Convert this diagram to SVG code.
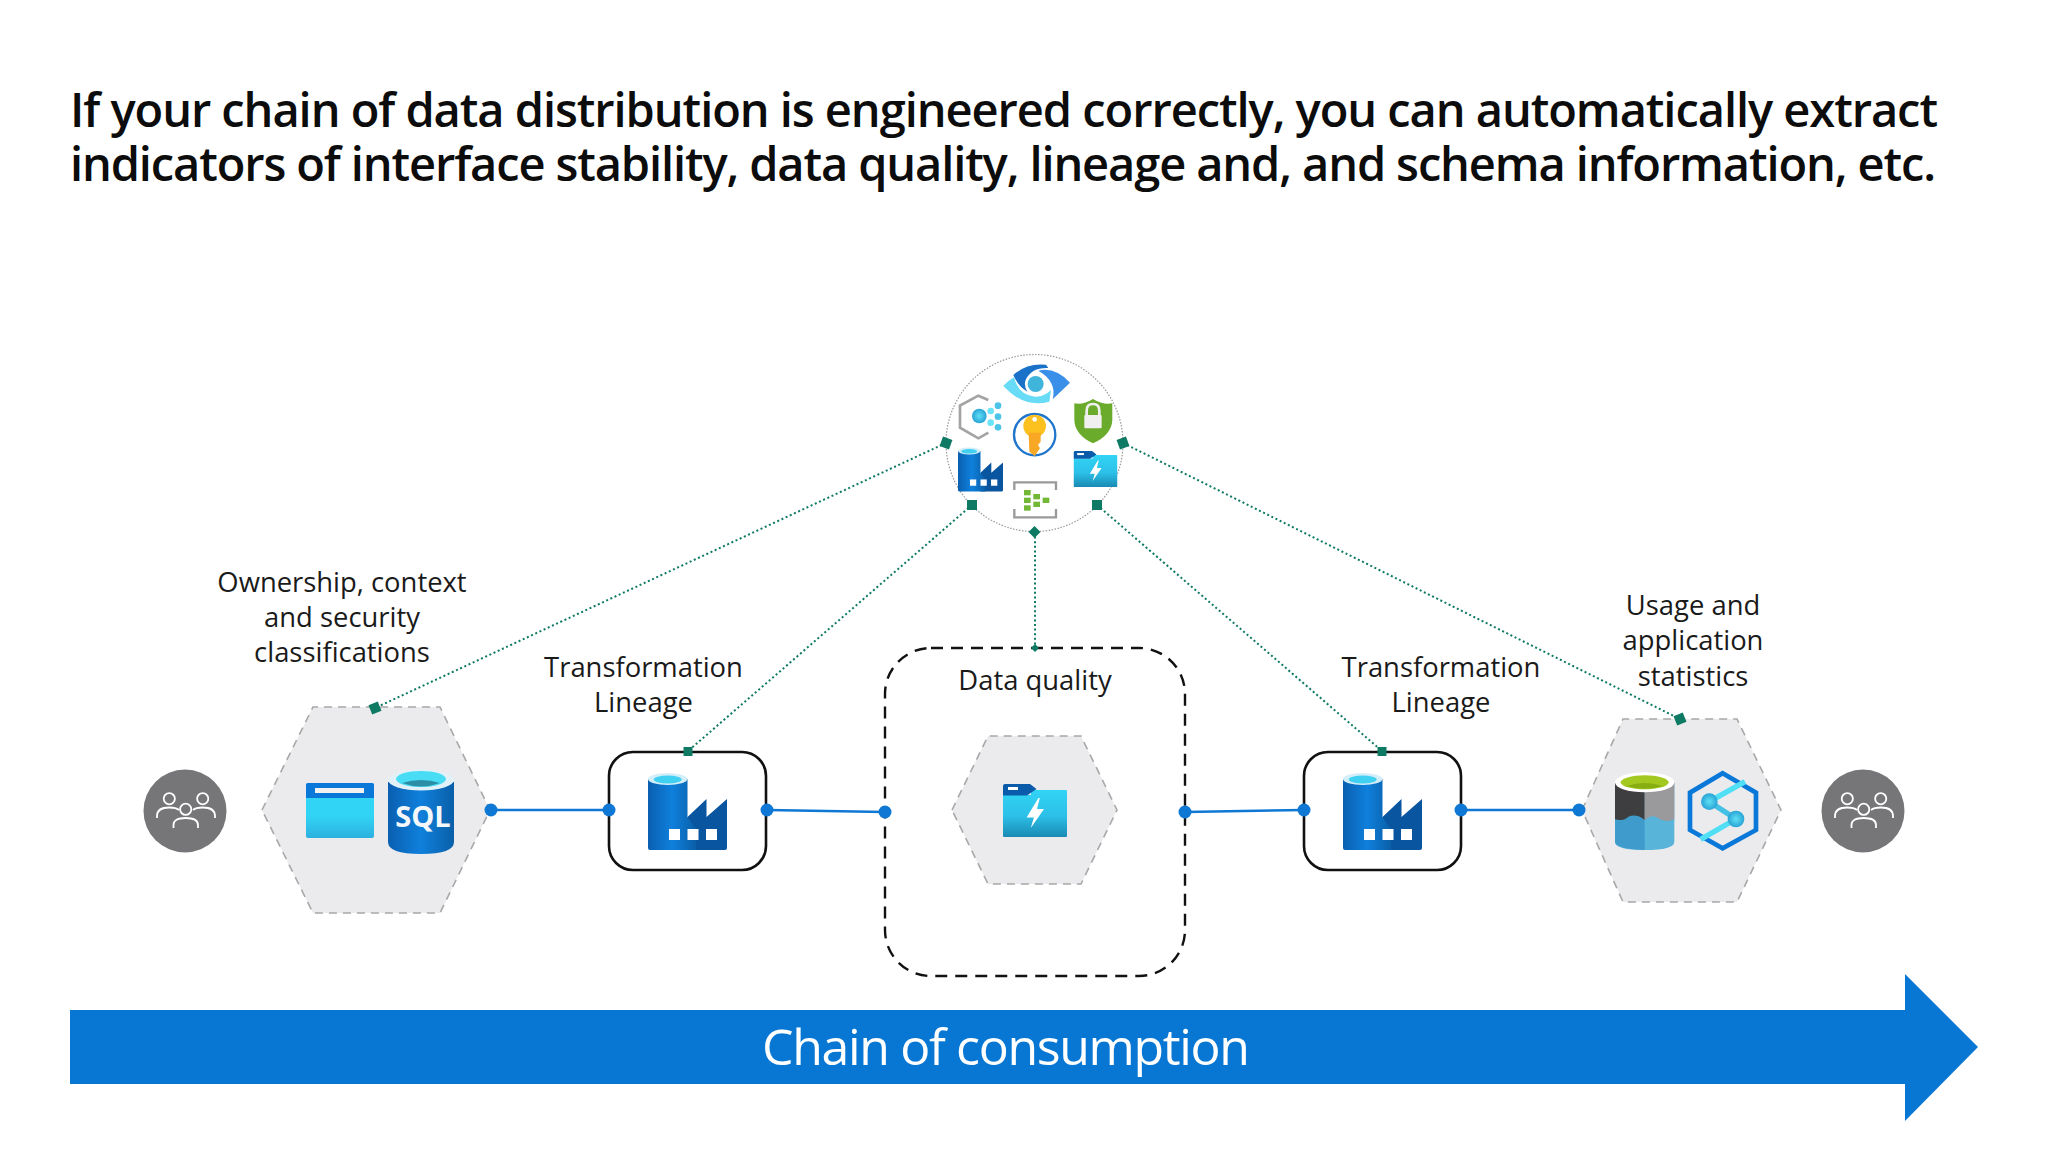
<svg xmlns="http://www.w3.org/2000/svg" width="2048" height="1152" viewBox="0 0 2048 1152">
<style>
text{font-family:"Open Sans","Noto Sans","Liberation Sans",sans-serif;fill:#111}
.title{font-size:47px;font-weight:600;fill:#0c0c0c}
.lab{font-size:27.400px;text-anchor:middle;fill:#1a1a1a}
.hex{fill:#ebebed;stroke:#a8a8a8;stroke-width:1.600;stroke-dasharray:8 6}
.box{fill:#fff;stroke:#111;stroke-width:2.600}
.dot{stroke:#0e7a64;stroke-width:2;stroke-dasharray:2 2.600;fill:none}
.flow{stroke:#0f78d4;stroke-width:2.600;fill:none}
.bd{fill:#0f78d4}
.sq{fill:#0e7a64}
.pp{fill:none;stroke:#fff;stroke-width:1.800}
</style>
<defs>
<linearGradient id="cyl" x1="0" x2="1" y1="0" y2="0"><stop offset="0" stop-color="#0a5fb0"/><stop offset=".5" stop-color="#0f80dc"/><stop offset="1" stop-color="#0a5fa8"/></linearGradient>
<linearGradient id="fold" x1="0" x2="0" y1="0" y2="1"><stop offset="0" stop-color="#32d4f5"/><stop offset=".55" stop-color="#2cc0e8"/><stop offset="1" stop-color="#198ab3"/></linearGradient>
<linearGradient id="win" x1="0" x2="0" y1="0" y2="1"><stop offset="0" stop-color="#32d4f5"/><stop offset=".6" stop-color="#32d4f5"/><stop offset="1" stop-color="#2bb0de"/></linearGradient>
<radialGradient id="ball"><stop offset="0" stop-color="#5fe0f5"/><stop offset="1" stop-color="#29a4d6"/></radialGradient>
<symbol id="factory" viewBox="0 0 79 77" overflow="visible">
<path d="M39.500 44 58.500 26V44L79 26V75Q79 77 77 77H39.500Z" fill="#0a55a0"/>
<path d="M0 6V75Q0 77 2 77H48V56L39.500 44V6Z" fill="url(#cyl)"/>
<ellipse cx="19.700" cy="6" rx="19.700" ry="6" fill="#d4eef8"/>
<ellipse cx="19.700" cy="6.500" rx="14" ry="4" fill="#40d0f2"/>
<g fill="#fff"><rect x="21" y="56" width="11" height="11"/><rect x="39.500" y="56" width="11" height="11"/><rect x="58" y="56" width="11" height="11"/></g>
</symbol>
<symbol id="folder" viewBox="0 0 64 53" overflow="visible">
<path d="M0 11H28V6H63Q64 6 64 7V52Q64 53 63 53H1Q0 53 0 52Z" fill="url(#fold)"/>
<path d="M2 0H27L33.500 5 24 11.400H0V2Q0 0 2 0Z" fill="#0a5cab"/>
<rect x="5" y="3" width="10" height="3" fill="#fff"/>
<path d="M35.400 14 23.600 33.400H30.900L27.800 44 41 25H34L36.800 14Z" fill="#fff"/>
</symbol>
<symbol id="people" viewBox="-42 -42 84 84" overflow="visible">
<circle r="41.500" fill="#767578"/>
<g class="pp"><circle cx="-15.700" cy="-12.300" r="5.600"/><circle cx="17.700" cy="-12.300" r="5.600"/><circle cx=".7" cy="-1.700" r="5.600"/>
<path d="M-28 7V5Q-28 -3.500 -15.700 -3.500Q-9 -3.500 -6 -1"/><path d="M30 7V5Q30 -3.500 17.700 -3.500Q11 -3.500 8 -1"/><path d="M-11.500 17V14Q-11.500 7 .7 7Q13 7 13 14V17"/></g>
</symbol>
</defs>
<rect width="2048" height="1152" fill="#fff"/>

<g id="title">
<text class="title" x="70" y="127" textLength="1868">If your chain of data distribution is engineered correctly, you can automatically extract</text>
<text class="title" x="70" y="181" textLength="1866">indicators of interface stability, data quality, lineage and, and schema information, etc.</text>
</g>

<g id="connectors">
<path class="dot" d="M946 443 375 708"/>
<path class="dot" d="M972 505 688 751"/>
<path class="dot" d="M1035 532V648"/>
<path class="dot" d="M1097 505 1382 751"/>
<path class="dot" d="M1123 443 1680 719"/>
<path class="flow" d="M491 810H609"/>
<path class="flow" d="M767 810 885 812"/>
<path class="flow" d="M1185 812 1304 810"/>
<path class="flow" d="M1461 810H1579"/>
</g>

<g id="consumer-left"><use href="#people" x="143" y="769" width="84" height="84"/></g>

<g id="sql-source">
<path class="hex" d="M262 810 313 707H440L490 810 440 913H313Z"/>
<rect x="306" y="783" width="68" height="55" rx="2" fill="url(#win)"/>
<path d="M306 798V785Q306 783 308 783H372Q374 783 374 785V798Z" fill="#0a78d8"/>
<rect x="315" y="788" width="49" height="5" fill="#f2f2f2"/>
<path d="M388 782V842Q388 854 421 854 454 854 454 842V782Z" fill="url(#cyl)"/>
<ellipse cx="421" cy="780" rx="33" ry="10.500" fill="#e2f1f8"/>
<ellipse cx="421" cy="779" rx="25" ry="8" fill="#48dcf5"/>
<path d="M402 783Q421 777 440 783 421 790 402 783Z" fill="#2b8ea6"/>
<text x="423" y="827" font-size="29" font-weight="700" text-anchor="middle" style="fill:#f4f8fb">SQL</text>
<circle class="bd" cx="491" cy="810" r="6.500"/>
<rect class="sq" x="370" y="703" width="10" height="10" transform="rotate(-22 375 708)"/>
<text class="lab" x="342" y="592">Ownership, context</text>
<text class="lab" x="342" y="627">and security</text>
<text class="lab" x="342" y="662">classifications</text>
</g>

<g id="transform-left">
<rect class="box" x="609" y="752" width="157" height="118" rx="24"/>
<use href="#factory" x="648" y="773" width="79" height="77"/>
<circle class="bd" cx="609" cy="810" r="6.500"/><circle class="bd" cx="767" cy="810" r="6.500"/>
<rect class="sq" x="683.500" y="747" width="9" height="9"/>
<text class="lab" x="643.500" y="677">Transformation</text>
<text class="lab" x="643.500" y="712">Lineage</text>
</g>

<g id="data-quality">
<rect x="885" y="648" width="300" height="328" rx="46" fill="none" stroke="#111" stroke-width="2.400" stroke-dasharray="12 8"/>
<path class="hex" d="M952 810 988 736H1081L1117 810 1081 884H988Z"/>
<use href="#folder" x="1003" y="784" width="64" height="53"/>
<circle class="bd" cx="885" cy="812" r="6.500"/><circle class="bd" cx="1185" cy="812" r="6.500"/>
<path class="sq" d="M1035 644 1039 648 1035 652 1031 648Z"/>
<text class="lab" x="1035" y="690">Data quality</text>
</g>

<g id="transform-right">
<rect class="box" x="1304" y="752" width="157" height="118" rx="24"/>
<use href="#factory" x="1343" y="773" width="79" height="77"/>
<circle class="bd" cx="1304" cy="810" r="6.500"/><circle class="bd" cx="1461" cy="810" r="6.500"/>
<rect class="sq" x="1377.500" y="747" width="9" height="9"/>
<text class="lab" x="1441" y="677">Transformation</text>
<text class="lab" x="1441" y="712">Lineage</text>
</g>

<g id="analytics">
<path class="hex" d="M1582 810 1623 719H1737L1781 810 1737 902H1623Z"/>
<g transform="translate(1580 700) scale(.3333)">
<path d="M105 247V425Q105 450 194 450 283 450 283 425V247Z" fill="#59b4d9"/>
<path d="M105 247V425Q105 445 194 450V247Z" fill="#3f9bcb"/>
<path d="M105 247V358Q130 365 145 350 170 340 194 360V247Z" fill="#3e3d40"/>
<path d="M194 247V360Q215 342 230 352 255 370 283 358V247Z" fill="#9a9a9d"/>
<ellipse cx="194" cy="247" rx="89" ry="30" fill="#fff"/>
<ellipse cx="194" cy="247" rx="72" ry="21" fill="#a3c81f"/>
<path d="M140 258Q194 240 248 258 194 275 140 258Z" fill="#86ad12"/>
<path d="M428 220 528 278V390L428 445 330 390V278Z" fill="none" stroke="#0a78d8" stroke-width="14"/>
<path d="M388 305 495 245" stroke="#50dff5" stroke-width="16"/>
<path d="M468 357 362 418" stroke="#50dff5" stroke-width="16"/>
<path d="M388 305 468 357" stroke="#45c0e5" stroke-width="16"/>
<circle cx="388" cy="305" r="25" fill="url(#ball)"/>
<circle cx="468" cy="357" r="25" fill="url(#ball)"/>
</g>
<circle class="bd" cx="1579" cy="810" r="6.500"/>
<rect class="sq" x="1675" y="714" width="10" height="10" transform="rotate(-22 1680 719)"/>
<text class="lab" x="1693" y="615">Usage and</text>
<text class="lab" x="1693" y="650">application</text>
<text class="lab" x="1693" y="686">statistics</text>
</g>

<g id="consumer-right"><use href="#people" x="1821" y="769" width="84" height="84"/></g>

<g id="governance">
<circle cx="1034.500" cy="443" r="88.500" fill="#fff" stroke="#999" stroke-width="1.200" stroke-dasharray="1.500 1.500"/>
<g transform="translate(920 340) scale(.3333)">
<path d="M280 105Q320 68 378 74L385 84Q335 82 318 118 310 135 322 155 295 140 280 105Z" fill="#1a72c8"/>
<path d="M355 92Q405 80 450 128L398 178Q412 125 355 92Z" fill="#3a8fe8"/>
<path d="M250 137Q268 120 282 112 295 165 345 170 370 172 393 150L388 185Q310 205 250 137Z" fill="#68dcf6"/>
<circle cx="347" cy="132" r="24" fill="#3fb5dc"/>
<path d="M205 180 175 167 120 197V263L175 295 205 278" fill="none" stroke="#a3a3a3" stroke-width="8"/>
<circle cx="178" cy="228" r="22" fill="url(#ball)"/>
<g fill="#4cc4e8"><circle cx="212" cy="213" r="10" fill="#6ce4f8"/><circle cx="234" cy="197" r="10"/><circle cx="234" cy="230" r="10"/><circle cx="212" cy="248" r="10" fill="#6ce4f8"/><circle cx="234" cy="262" r="10"/></g>
<circle cx="344" cy="284" r="62" fill="#fff" stroke="#2075cc" stroke-width="7"/>
<circle cx="344" cy="258" r="34" fill="#fcc11f"/>
<path d="M326 278H362V305L354 315 360 325 344 348 328 335Z" fill="#f9a825"/>
<circle cx="344" cy="238" r="7" fill="#fff"/>
<path d="M519 177Q490 195 463 190V240Q465 285 519 310 575 285 577 240V190Q548 195 519 177Z" fill="#6bab2c"/>
<path d="M500 228V212Q500 192 519 192 538 192 538 212V228" fill="none" stroke="#f0f0f0" stroke-width="8"/>
<rect x="493" y="225" width="52" height="40" rx="3" fill="#f0f0f0"/>
<path d="M283 450V427H408V450M283 507V532H408V507" fill="none" stroke="#9a9a9a" stroke-width="7"/>
<g fill="#72b835"><rect x="312" y="450" width="20" height="16"/><rect x="340" y="462" width="20" height="16"/><rect x="312" y="473" width="20" height="16"/><rect x="340" y="485" width="20" height="16"/><rect x="368" y="473" width="20" height="16"/><rect x="312" y="496" width="20" height="16"/></g>
</g>
<use href="#factory" x="958" y="447" width="45" height="45"/>
<use href="#folder" x="1073" y="451" width="45" height="36"/>
<g class="sq">
<rect x="941" y="438" width="10" height="10" transform="rotate(20 946 443)"/>
<rect x="1118" y="438" width="10" height="10" transform="rotate(-20 1123 443)"/>
<rect x="967" y="500" width="10" height="10"/>
<rect x="1092" y="500" width="10" height="10"/>
<path d="M1034.500 526 1040.500 532 1034.500 538 1028.500 532Z"/>
</g>
</g>

<g id="chain-arrow">
<path d="M70 1010H1905V974L1978 1047 1905 1121V1084H70Z" fill="#0777d3"/>
<text x="1006" y="1065" font-size="50" text-anchor="middle" textLength="488" style="fill:#fff">Chain of consumption</text>
</g>
</svg>
